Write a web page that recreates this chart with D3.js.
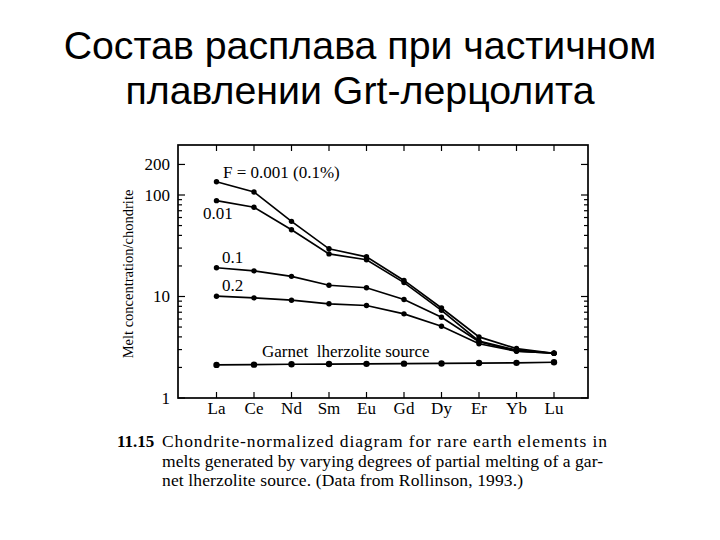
<!DOCTYPE html>
<html><head><meta charset="utf-8">
<script src="https://cdn.jsdelivr.net/npm/d3@7"></script>
<style>body{margin:0;background:#fff}svg{display:block}</style>
</head><body><svg id="c" width="720" height="540"></svg>
<script>
const titleLines = ["Состав расплава при частичном", "плавлении Grt-лерцолита"];
const elements = ["La","Ce","Nd","Sm","Eu","Gd","Dy","Er","Yb","Lu"];
const f0001 = [135, 107, 55, 29.5, 24.6, 14.4, 7.7, 4.0, 3.07, 2.76];
const f001  = [88, 75.8, 45.4, 26.3, 23, 13.7, 7.3, 3.63, 2.96, 2.76];
const f01   = [19.2, 17.9, 15.8, 12.9, 12.2, 9.34, 6.25, 3.58, 2.9, 2.76];
const f02   = [10.07, 9.7, 9.2, 8.47, 8.15, 6.75, 5.1, 3.42, 2.89, 2.76];
const source = [2.12, 2.13, 2.15, 2.16, 2.17, 2.18, 2.19, 2.21, 2.22, 2.25];
const seriesNames = ["F = 0.001 (0.1%)", "0.01", "0.1", "0.2", "Garnet  lherzolite source"];
const yLabelTicks = [1, 10, 100, 200];
const yTicks = [1,2,3,4,5,6,7,8,9,10,20,30,40,50,60,70,80,90,100,200];
const yTitle = "Melt concentration/chondrite";
const captionNum = "11.15";
const captionLines = ["Chondrite-normalized diagram for rare earth elements in",
  "melts generated by varying degrees of partial melting of a gar-",
  "net lherzolite source. (Data from Rollinson, 1993.)"];

const svg = d3.select("#c");
const serif = "'Liberation Serif','DejaVu Serif',serif";

// title
svg.append("g").selectAll("text").data(titleLines).join("text")
  .attr("x", 360).attr("y", (d,i)=> 59 + i*45)
  .attr("text-anchor","middle")
  .style("font-family","'Liberation Sans',Arial,sans-serif")
  .style("font-size","39.3px").attr("fill","#000")
  .text(d=>d);

const L = 178, R = 588, T = 145, B = 398;
const x = d3.scalePoint().domain(elements).range([216.5, 554]);
const y = d3.scaleLog().domain([1, Math.pow(10,(B-T)/101.5)]).range([B, T]);

const g = svg.append("g");
g.append("rect").attr("x",L).attr("y",T).attr("width",R-L).attr("height",B-T)
  .attr("fill","none").attr("stroke","#000").attr("stroke-width",1.7);

const major = v => yLabelTicks.includes(v);
g.append("g").selectAll("line").data(yTicks).join("line")
  .attr("x1",L).attr("x2",d=> L + (major(d)?7:4))
  .attr("y1",d=>y(d)).attr("y2",d=>y(d)).attr("stroke","#000").attr("stroke-width",1.2);
g.append("g").selectAll("line").data(yTicks).join("line")
  .attr("x1",R).attr("x2",d=> R - (major(d)?7:4))
  .attr("y1",d=>y(d)).attr("y2",d=>y(d)).attr("stroke","#000").attr("stroke-width",1.2);
g.append("g").selectAll("text").data(yLabelTicks).join("text")
  .attr("x", L-8).attr("y", d=>y(d)+5.5).attr("text-anchor","end")
  .style("font-family",serif).style("font-size","17px").text(d=>d);

// x ticks top & bottom
g.append("g").selectAll("line").data(elements).join("line")
  .attr("x1",d=>x(d)).attr("x2",d=>x(d)).attr("y1",T).attr("y2",T+6)
  .attr("stroke","#000").attr("stroke-width",1.2);
g.append("g").selectAll("line").data(elements).join("line")
  .attr("x1",d=>x(d)).attr("x2",d=>x(d)).attr("y1",B).attr("y2",B-6)
  .attr("stroke","#000").attr("stroke-width",1.2);
g.append("g").selectAll("text").data(elements).join("text")
  .attr("x",d=>x(d)).attr("y",B+16).attr("text-anchor","middle")
  .style("font-family",serif).style("font-size","17px").text(d=>d);

// y title
g.append("text").attr("transform","translate(133,274) rotate(-90)")
  .attr("text-anchor","middle").style("font-family",serif).style("font-size","14.5px")
  .text(yTitle);

// series
const allSeries = [f0001, f001, f01, f02, source];
const line = d3.line().x((d,i)=>x(elements[i])).y(d=>y(d));
allSeries.forEach((s,k)=>{
  g.append("path").datum(s).attr("d",line).attr("fill","none")
    .attr("stroke","#000").attr("stroke-width",1.7);
  g.append("g").selectAll("circle").data(s).join("circle")
    .attr("cx",(d,i)=>x(elements[i])).attr("cy",d=>y(d))
    .attr("r", k===4?3.2:2.7).attr("fill","#000");
});

// series labels
const labelPos = [[223,178],[203,219],[222,263],[222,291],[262,357]];
g.append("g").selectAll("text").data(seriesNames).join("text")
  .attr("x",(d,i)=>labelPos[i][0]).attr("y",(d,i)=>labelPos[i][1])
  .style("font-family",serif).style("font-size","17px").style("white-space","pre")
  .attr("xml:space","preserve")
  .text(d=>d);

// caption
const cap = svg.append("g");
cap.append("text").attr("x",117).attr("y",447)
  .style("font-family",serif).style("font-size","17px").style("font-weight","bold")
  .text(captionNum);
cap.selectAll("text.c").data(captionLines).join("text").attr("class","c")
  .attr("x",162).attr("y",(d,i)=>447+i*19.5)
  .style("font-family",serif).style("font-size","17.5px")
  .each(function(d,i){ d3.select(this).attr("textLength", [445,441,361][i]).attr("lengthAdjust","spacing"); })
  .text(d=>d);
</script></body></html>
